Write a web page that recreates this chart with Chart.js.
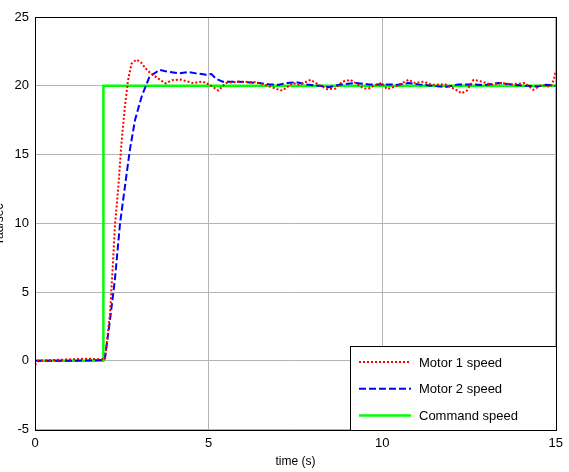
<!DOCTYPE html>
<html>
<head>
<meta charset="utf-8">
<script src="https://cdn.jsdelivr.net/npm/chart.js@4.4.1/dist/chart.umd.min.js"></script>
<style>
body{margin:0;background:#fff;}
#wrap{width:569px;height:472px;}
</style>
</head>
<body>
<div id="wrap"><canvas id="graficoVelocidade" width="569" height="472"></canvas></div>
<script>

// =============================
// DADOS
// =============================

const tempoMotor1 = [0,0.1,0.5,1.0,1.5,2.0,2.02,2.16,2.24,2.30,2.40,2.49,2.59,2.68,2.78,2.92,3.05,3.19,3.33,3.48,3.62,3.76,3.95,4.2,4.54,4.83,5.03,5.28,5.5,5.89,6.37,6.65,7.03,7.13,7.42,7.61,7.94,8.18,8.42,8.66,8.85,9.09,9.23,9.47,9.61,9.8,9.99,10.14,10.38,10.76,10.95,11.19,11.43,11.81,12.1,12.29,12.44,12.63,12.87,13.16,13.4,13.73,14.11,14.35,14.59,14.78,14.88,14.95,15.0];
const velMotor1 = [-0.3,0,0.05,0.1,0.15,0.1,0.17,3.45,6.84,9.75,12.66,15.8,18.5,20.4,21.6,21.9,21.7,21.25,20.9,20.65,20.4,20.17,20.4,20.45,20.2,20.3,20.07,19.65,20.2,20.3,20.26,20.05,19.7,19.65,20.2,20.07,20.43,20.07,19.75,19.8,20.3,20.43,20.2,19.8,19.8,20.05,20.2,19.75,19.95,20.43,20.2,20.3,20.07,20.1,19.75,19.45,19.65,20.43,20.3,20.07,20.2,20.1,20.2,19.7,20.07,19.95,20.05,20.5,21.1];

const tempoMotor2 = [0,1.0,2.0,2.02,2.16,2.30,2.45,2.59,2.73,2.88,3.07,3.30,3.59,3.76,4.14,4.4,4.64,4.93,5.08,5.22,5.41,5.7,6.08,6.46,6.75,7.03,7.23,7.52,7.8,8.18,8.47,8.76,9.23,9.61,10.09,10.47,10.76,11.05,11.43,11.81,12.2,12.58,12.96,13.35,13.73,14.11,14.49,14.7,15.0];
const velMotor2 = [0,0,0.05,0.3,2.96,5.87,10.0,12.66,15.3,17.5,19.2,20.67,21.15,21.06,20.9,21.0,20.9,20.8,20.85,20.5,20.3,20.3,20.26,20.2,20.1,20.07,20.2,20.26,20.1,20.0,19.9,20.07,20.2,20.1,20.1,20.07,20.2,20.1,20.0,19.9,20.1,20.1,20.05,20.2,20.1,20.0,19.95,20.07,20.0];

const tempoComando = [0,1.97,1.97,15];
const velComando = [0,0,20,20];

const nomesSeries = ["Motor 1 speed","Motor 2 speed","Command speed"];

const ticksX = [0,5,10,15];
const ticksY = [-5,0,5,10,15,20,25];

const tituloX = "time (s)";
const tituloY = "rad/sec";

function pontos(t,v){
return t.map((x,i)=>({x:x,y:v[i]}));
}


// =============================
// PLUGINS
// =============================

const caixaEixos = {
id:"caixaEixos",
afterDatasetsDraw(chart){
const {ctx,chartArea:a} = chart;
ctx.save();
ctx.strokeStyle="#000";
ctx.lineWidth=1;
ctx.strokeRect(Math.round(a.left)+0.5,Math.round(a.top)+0.5,Math.round(a.right-a.left),Math.round(a.bottom-a.top));

// titulo do eixo y (cortado na borda, como no original)
ctx.translate(3,(a.top+a.bottom)/2);
ctx.rotate(-Math.PI/2);
ctx.fillStyle="#000";
ctx.font="12px 'Liberation Sans', Arial, sans-serif";
ctx.textAlign="center";
ctx.textBaseline="alphabetic";
ctx.fillText(tituloY,0,0);
ctx.restore();
}
};

const legendaInterna = {
id:"legendaInterna",
afterDraw(chart){
const {ctx,chartArea:a} = chart;
const w = 206, h = 84;
const x0 = Math.round(a.right)-w, y0 = Math.round(a.bottom)-h;
ctx.save();
ctx.fillStyle="#fff";
ctx.fillRect(x0,y0,w,h);
ctx.strokeStyle="#000";
ctx.lineWidth=1;
ctx.strokeRect(x0+0.5,y0+0.5,w,h);
ctx.font="13px 'Liberation Sans', Arial, sans-serif";
ctx.textBaseline="middle";
chart.data.datasets.forEach((ds,i)=>{
const y = y0+16+i*26.7;
ctx.beginPath();
ctx.setLineDash(ds.borderDash || []);
ctx.strokeStyle=ds.borderColor;
ctx.lineWidth=ds.borderWidth;
ctx.moveTo(x0+9,y);
ctx.lineTo(x0+61,y);
ctx.stroke();
ctx.setLineDash([]);
ctx.fillStyle="#000";
ctx.fillText(ds.label,x0+69,y+1);
});
ctx.restore();
}
};


// =============================
// GRAFICO
// =============================

const ctx = document.getElementById("graficoVelocidade").getContext("2d");

const chart = new Chart(ctx,{
type:"line",
data:{
datasets:[
{
label:nomesSeries[0],
data:pontos(tempoMotor1,velMotor1),
borderColor:"#ff0000",
borderWidth:2,
borderDash:[2,2],
pointRadius:0,
tension:0,
fill:false
},
{
label:nomesSeries[1],
data:pontos(tempoMotor2,velMotor2),
borderColor:"#0000ff",
borderWidth:2,
borderDash:[7,3],
pointRadius:0,
tension:0,
fill:false
},
{
label:nomesSeries[2],
data:pontos(tempoComando,velComando),
borderColor:"#00ff00",
borderWidth:2.5,
pointRadius:0,
tension:0,
fill:false
}
]
},
options:{
responsive:false,
animation:false,
layout:{padding:{top:17,right:11,left:0,bottom:0}},
plugins:{
legend:{display:false},
tooltip:{enabled:false}
},
scales:{
x:{
type:"linear",
min:ticksX[0],
max:ticksX[ticksX.length-1],
afterBuildTicks:(s)=>{ s.ticks = ticksX.map(v=>({value:v})); },
afterFit:(s)=>{ s.height = 42.5; },
grid:{color:"#b4b4b4",drawTicks:false},
border:{display:false},
ticks:{color:"#000",padding:6,maxRotation:0,font:{family:"'Liberation Sans', Arial, sans-serif",size:13}},
title:{display:true,text:tituloX,color:"#000",padding:{top:0,bottom:3},font:{family:"'Liberation Sans', Arial, sans-serif",size:12}}
},
y:{
type:"linear",
min:ticksY[0],
max:ticksY[ticksY.length-1],
afterBuildTicks:(s)=>{ s.ticks = ticksY.map(v=>({value:v})); },
afterFit:(s)=>{ s.width = 35; },
grid:{color:"#b4b4b4",drawTicks:false},
border:{display:false},
ticks:{color:"#000",padding:6,font:{family:"'Liberation Sans', Arial, sans-serif",size:13}}
}
}
},
plugins:[caixaEixos,legendaInterna]
});

</script>
</body>
</html>
